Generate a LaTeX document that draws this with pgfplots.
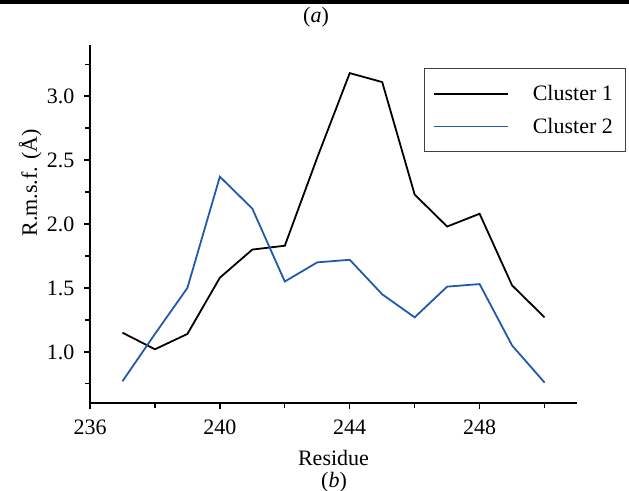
\documentclass[border=0pt]{standalone}
\usepackage{fontspec}
\setmainfont{Liberation Serif}
\usepackage{pgfplots}
\pgfplotsset{compat=1.18}
\definecolor{clusterblue}{RGB}{34,90,170}

\begin{document}
\begin{tikzpicture}[x=1bp, y=1bp, font=\fontsize{22bp}{26bp}\selectfont]
\path[use as bounding box] (0,0) rectangle (629,491);
\fill[black] (0,487) rectangle (629,491);
\node at (316,474) {(\textit{a})};
\node at (334,9) {(\textit{b})};

\begin{axis}[
    at={(90bp,88bp)}, anchor=south west,
    scale only axis,
    width=487bp, height=358bp,
    xmin=236, xmax=251,
    ymin=0.6, ymax=3.4,
    axis x line*=bottom, axis y line*=left,
    axis line style={line width=1.3bp, black},
    xtick={236,240,244,248},
    minor xtick={238,242,246,250},
    ytick={1,1.5,2,2.5,3},
    minor ytick={0.75,1.25,1.75,2.25,2.75,3.25},
    yticklabel style={xshift=-6bp, /pgf/number format/.cd, fixed, fixed zerofill, precision=1},
    /pgf/number format/assume math mode=true,
    xticklabel style={yshift=-7bp},
    tick align=outside,
    major tick length=6bp, minor tick length=5bp,
    every tick/.style={line width=1.3bp, black},
    xlabel={Residue},
    ylabel={R.m.s.f. (Å)},
    xlabel style={at={(axis description cs:0.5,-0.154)}, anchor=center},
    ylabel style={at={(axis description cs:-0.123,0.615)}, anchor=center},
    legend style={
        at={(axis description cs:0.685,0.936)}, anchor=north west,
        draw=black!75, line width=0.8bp,
        inner xsep=9bp, inner ysep=15bp,
        row sep=12bp,
        /tikz/every odd column/.append style={column sep=22bp},
    },
    legend cell align=left,
    legend image code/.code={\draw[#1] (0bp,0bp) -- (74bp,0bp);},
]

\addplot[black, line width=1.8bp] coordinates {
    (237,1.15) (238,1.02) (239,1.14) (240,1.58) (241,1.80) (242,1.83)
    (243,2.52) (244,3.18) (245,3.11) (246,2.23) (247,1.98) (248,2.08)
    (249,1.52) (250,1.27)
};
\addlegendentry{Cluster 1\hspace*{2bp}}

\addplot[clusterblue, line width=1.8bp] coordinates {
    (237,0.77) (238,1.14) (239,1.50) (240,2.37) (241,2.12) (242,1.55)
    (243,1.70) (244,1.72) (245,1.45) (246,1.27) (247,1.51) (248,1.53)
    (249,1.05) (250,0.76)
};
\addlegendentry{Cluster 2\hspace*{2bp}}

\end{axis}
\end{tikzpicture}
\end{document}
